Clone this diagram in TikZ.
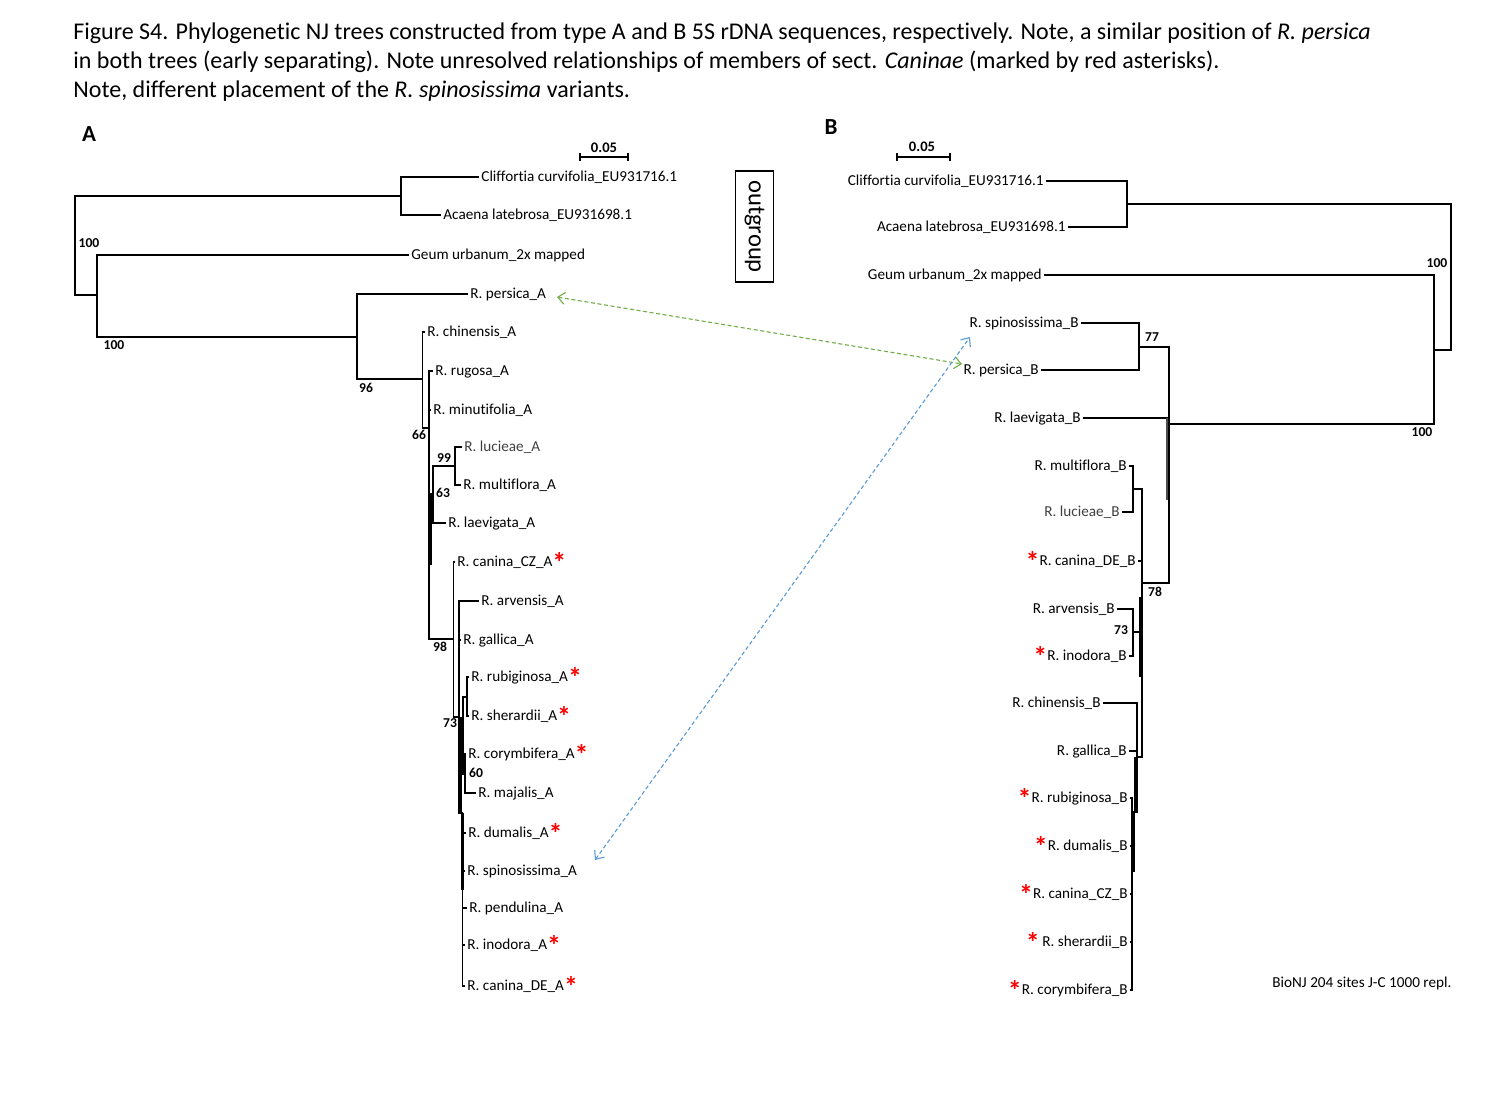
\documentclass[tikz,border=0pt]{standalone}
\usepackage{fontspec}
\setmainfont{Carlito}[Ligatures=NoCommon]
\usetikzlibrary{arrows.meta}
\definecolor{arrgreen}{HTML}{70AD47}
\definecolor{arrblue}{HTML}{5B9BD5}
\definecolor{astred}{HTML}{FF0000}
\newcommand\lblfont{\fontsize{7.6}{9}\selectfont}
\newcommand\bsfont{\bfseries\fontsize{6.8}{8}\selectfont}
\newcommand\capfont{\fontsize{12}{14}\selectfont}
\newcommand\rdast{\raisebox{-2.6pt}{\fontsize{14}{14}\selectfont\bfseries\textcolor{astred}{*}}}
\begin{document}
\begin{tikzpicture}[x=0.5pt,y=-0.5pt,
  br/.style={line width=0.75pt},
  thick br/.style={line width=1.4pt},
  lfA/.style={anchor=west, inner sep=1pt, font=\lblfont, text height=6pt, text depth=1.1pt},
  lfB/.style={anchor=east, inner sep=1pt, font=\lblfont, text height=6pt, text depth=1.1pt},
  bs/.style={font=\bsfont, inner sep=0pt},
  sbar/.style={line width=0.75pt},
  dasharrow/.style={line width=0.55pt, dash pattern=on 2pt off 1.3pt, {Straight Barb[length=3.5pt,width=6pt]}-{Straight Barb[length=3.5pt,width=6pt]}},
]
\fill[white] (0,0) rectangle (1487,1115);
\useasboundingbox (0,0) rectangle (1487,1115);

% caption
\node[anchor=base west, inner sep=0, font=\capfont] (cap1) at (73,39) {Figure S4. Phylogenetic NJ trees constructed from type A and B 5S rDNA sequences, respectively. Note, a similar position of \textit{R. persica}};
\node[anchor=base west, inner sep=0, font=\capfont] (cap2) at (73,68) {in both trees (early separating). Note unresolved relationships of members of sect. \textit{Caninae} (marked by red asterisks).};
\node[anchor=base west, inner sep=0, font=\capfont] (cap3) at (73,97) {Note, different placement of the \textit{R. spinosissima} variants.};

\node[font=\bfseries\fontsize{11.5}{12}\selectfont, inner sep=0] (labA) at (89,134) {A};
\node[font=\bfseries\fontsize{11.5}{12}\selectfont, inner sep=0] (labB) at (831,127) {B};

% scale bars
\coordinate (sa1) at (580,157); \coordinate (sa2) at (628,157);
\draw[sbar] (sa1) -- (sa2);
\draw[sbar] ([yshift=-2pt]sa1) -- ([yshift=2pt]sa1);
\draw[sbar] ([yshift=-2pt]sa2) -- ([yshift=2pt]sa2);
\node[bs, font=\bfseries\fontsize{7.3}{8}\selectfont] (sclA) at (604,148) {0.05};
\coordinate (sb1) at (897,157); \coordinate (sb2) at (950,157);
\draw[sbar] (sb1) -- (sb2);
\draw[sbar] ([yshift=-2pt]sb1) -- ([yshift=2pt]sb1);
\draw[sbar] ([yshift=-2pt]sb2) -- ([yshift=2pt]sb2);
\node[bs, font=\bfseries\fontsize{7.3}{8}\selectfont] (sclB) at (922,147) {0.05};

% outgroup box
\node[draw, line width=0.6pt, rotate=-90, minimum width=55.5pt, minimum height=19.2pt, inner sep=0pt, font=\fontsize{12.3}{13}\selectfont] (outg) at (754.5,226.5) {outgroup};

% ---------------- Tree A ----------------
\node[lfA] (cliffA) at (479,177) {Cliffortia curvifolia\_EU931716.1};
\node[lfA] (acaenaA) at (441,215) {Acaena latebrosa\_EU931698.1};
\node[lfA] (geumA) at (409,255) {Geum urbanum\_2x mapped};
\node[lfA] (persicaA) at (468,294) {R. persica\_A};
\node[lfA] (chinensisA) at (425,332) {R. chinensis\_A};
\node[lfA] (rugosaA) at (433,371) {R. rugosa\_A};
\node[lfA] (minutA) at (431,410) {R. minutifolia\_A};
\node[lfA, text=black!75] (lucieaeA) at (462,447) {R. lucieae\_A};
\node[lfA] (multifloraA) at (461,485) {R. multiflora\_A};
\node[lfA] (laevigataA) at (446,523) {R. laevigata\_A};
\node[lfA] (caninaCZA) at (455,562) {R. canina\_CZ\_A\rdast};
\node[lfA] (arvensisA) at (479,601) {R. arvensis\_A};
\node[lfA] (gallicaA) at (461,640) {R. gallica\_A};
\node[lfA] (rubiginosaA) at (469,677) {R. rubiginosa\_A\rdast};
\node[lfA] (sherardiiA) at (469,716) {R. sherardii\_A\rdast};
\node[lfA] (corymbiferaA) at (466,754) {R. corymbifera\_A\rdast};
\node[lfA] (majalisA) at (476,793) {R. majalis\_A};
\node[lfA] (dumalisA) at (466,833) {R. dumalis\_A\rdast};
\node[lfA] (spinoA) at (465,871) {R. spinosissima\_A};
\node[lfA] (pendulinaA) at (467,908) {R. pendulina\_A};
\node[lfA] (inodoraA) at (465,945) {R. inodora\_A\rdast};
\node[lfA] (caninaDEA) at (465,986) {R. canina\_DE\_A\rdast};

\coordinate (rA) at (75,246);
\coordinate (oA) at (401,196);
\coordinate (gA) at (97,295);
\coordinate (pA) at (357,337);
\coordinate (cA) at (422.5,379);
\coordinate (kA) at (429,428);
\coordinate (hA) at (433,494);
\coordinate (lmA) at (455,466);
\coordinate (eA) at (453.5,639);
\coordinate (fA) at (459,717);
\coordinate (rsA) at (463,734);
\coordinate (rbA) at (467,697);
\coordinate (cmA) at (465,774);
\coordinate (bA) at (462.5,813);

\draw[br] (rA) |- (oA);
\draw[br] (rA) |- (gA);
\draw[br] (oA) |- (cliffA.west);
\draw[br] (oA) |- (acaenaA.west);
\draw[br] (gA) |- (geumA.west);
\draw[br] (gA) |- (pA);
\draw[br] (pA) |- (persicaA.west);
\draw[br] (pA) |- (cA);
\draw[br] (cA) |- (chinensisA.west);
\draw[br] (cA) |- (kA);
\draw[br] (kA) |- (rugosaA.west);
\draw[br] (kA) |- (minutA.west);
\draw[br] (kA) |- (hA);
\draw[br] (kA) |- (eA);
\draw[br] (hA) |- (lmA);
\draw[br] (hA) |- (laevigataA.west);
\draw[br] (lmA) |- (lucieaeA.west);
\draw[br] (lmA) |- (multifloraA.west);
\draw[br] (eA) |- (caninaCZA.west);
\draw[br] (eA) |- (fA);
\draw[br] (fA) |- (arvensisA.west);
\draw[br] (fA) |- (gallicaA.west);
\draw[br] (fA) |- (rsA);
\draw[br] (fA) |- (bA);
\draw[br] (rsA) |- (rbA);
\draw[br] (rsA) |- (cmA);
\draw[br] (rbA) |- (rubiginosaA.west);
\draw[br] (rbA) |- (sherardiiA.west);
\draw[br] (cmA) |- (corymbiferaA.west);
\draw[br] (cmA) |- (majalisA.west);
\draw[br] (bA) |- (dumalisA.west);
\draw[br] (bA) |- (spinoA.west);
\draw[br] (bA) |- (pendulinaA.west);
\draw[br] (bA) |- (inodoraA.west);
\draw[br] (bA) |- (caninaDEA.west);
% thickened collapsed segments
\coordinate (tA1) at (431,494); \coordinate (tA2) at (431,565);
\draw[br] (tA1) -- (tA2);
\coordinate (tA3) at (461,717); \coordinate (tA4) at (461,813);
\draw[thick br] (tA3) -- (tA4);
\coordinate (tA5) at (462.5,813); \coordinate (tA6) at (462.5,890);
\draw[thick br] (tA5) -- (tA6);

% bootstrap A
\node[bs] (bA100a) at (89,243) {100};
\node[bs] (bA100b) at (114,345) {100};
\node[bs] (bA96) at (366,388) {96};
\node[bs] (bA66) at (419,435) {66};
\node[bs] (bA99) at (444,458) {99};
\node[bs] (bA63) at (443,493) {63};
\node[bs] (bA98) at (440,647) {98};
\node[bs] (bA73) at (450,723) {73};
\node[bs] (bA60) at (476,773) {60};

% ---------------- Tree B ----------------
\node[lfB] (cliffB) at (1046,181) {Cliffortia curvifolia\_EU931716.1};
\node[lfB] (acaenaB) at (1068,227) {Acaena latebrosa\_EU931698.1};
\node[lfB] (geumB) at (1044,275) {Geum urbanum\_2x mapped};
\node[lfB] (spinoB) at (1081,323) {R. spinosissima\_B};
\node[lfB] (persicaB) at (1041,370) {R. persica\_B};
\node[lfB] (laevigataB) at (1083,418) {R. laevigata\_B};
\node[lfB] (multifloraB) at (1129,466) {R. multiflora\_B};
\node[lfB, text=black!75] (lucieaeB) at (1122,512) {R. lucieae\_B};
\node[lfB] (caninaDEB) at (1138,561) {\rdast R. canina\_DE\_B};
\node[lfB] (arvensisB) at (1117,609) {R. arvensis\_B};
\node[lfB] (inodoraB) at (1129,656) {\rdast R. inodora\_B};
\node[lfB] (chinensisB) at (1103,703) {R. chinensis\_B};
\node[lfB] (gallicaB) at (1129,751) {R. gallica\_B};
\node[lfB] (rubiginosaB) at (1130,798) {\rdast R. rubiginosa\_B};
\node[lfB] (dumalisB) at (1130,846) {\rdast R. dumalis\_B};
\node[lfB] (caninaCZB) at (1130,894) {\rdast R. canina\_CZ\_B};
\node[lfB] (sherardiiB) at (1130,942) {\rdast\,R. sherardii\_B};
\node[lfB] (corymbiferaB) at (1130,990) {\rdast R. corymbifera\_B};

\coordinate (rB) at (1451,277);
\coordinate (oB) at (1127,204);
\coordinate (gB) at (1434,350);
\coordinate (kB) at (1169,424);
\coordinate (sB) at (1139,347);
\coordinate (eB) at (1142,583);
\coordinate (mlB) at (1133,489);
\coordinate (aiB) at (1133,632);
\coordinate (cgB) at (1137,757);
\coordinate (bB) at (1132,812);

\draw[br] (rB) |- (oB);
\draw[br] (rB) |- (gB);
\draw[br] (oB) |- (cliffB.east);
\draw[br] (oB) |- (acaenaB.east);
\draw[br] (gB) |- (geumB.east);
\draw[br] (gB) |- (kB);
\draw[br] (kB) |- (sB);
\draw[br] (kB) |- (laevigataB.east);
\draw[br] (kB) |- (eB);
\draw[br] (sB) |- (spinoB.east);
\draw[br] (sB) |- (persicaB.east);
\draw[br] (eB) |- (mlB);
\draw[br] (eB) |- (caninaDEB.east);
\draw[br] (eB) |- (aiB);
\draw[br] (eB) |- (cgB);
\draw[br] (mlB) |- (multifloraB.east);
\draw[br] (mlB) |- (lucieaeB.east);
\draw[br] (aiB) |- (arvensisB.east);
\draw[br] (aiB) |- (inodoraB.east);
\draw[br] (cgB) |- (chinensisB.east);
\draw[br] (cgB) |- (gallicaB.east);
\draw[br] (cgB) |- (bB);
\draw[br] (bB) |- (rubiginosaB.east);
\draw[br] (bB) |- (dumalisB.east);
\draw[br] (bB) |- (caninaCZB.east);
\draw[br] (bB) |- (sherardiiB.east);
\draw[br] (bB) |- (corymbiferaB.east);
% thickened collapsed segments
\coordinate (tB1) at (1167,418); \coordinate (tB2) at (1167,500);
\draw[br, black!70] (tB1) -- (tB2);
\coordinate (tB3) at (1140,597); \coordinate (tB4) at (1140,677);
\draw[thick br] (tB3) -- (tB4);
\coordinate (tB5) at (1135,757); \coordinate (tB6) at (1135,812);
\draw[thick br] (tB5) -- (tB6);
\coordinate (tB7) at (1134,812); \coordinate (tB8) at (1134,872);
\draw[br] (tB7) -- (tB8);

% bootstrap B
\node[bs] (bB100a) at (1437,263) {100};
\node[bs] (bB100b) at (1422,432) {100};
\node[bs] (bB77) at (1152,337) {77};
\node[bs] (bB78) at (1155,592) {78};
\node[bs] (bB73) at (1121,630) {73};

\node[anchor=west, inner sep=0, font=\lblfont] (bionj) at (1272,983) {BioNJ 204 sites J-C 1000 repl.};

% comparison arrows
\coordinate (gtipA) at (557,297);
\coordinate (gtipB) at (962,364);
\draw[dasharrow, arrgreen] (gtipA) -- (gtipB);
\coordinate (btipA) at (595,860);
\coordinate (btipB) at (970,337);
\draw[dasharrow, arrblue] (btipA) -- (btipB);
\end{tikzpicture}
\end{document}
